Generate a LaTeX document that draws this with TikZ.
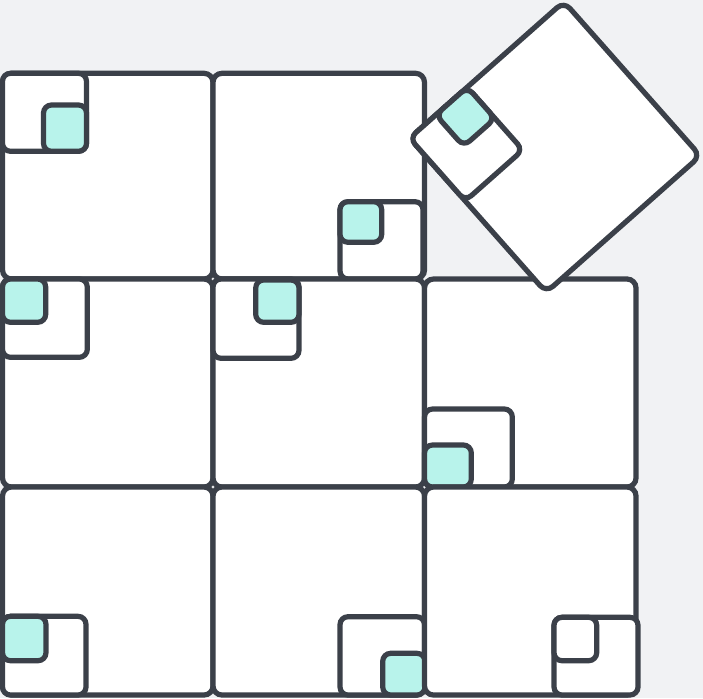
\documentclass[tikz,border=0pt]{standalone}
\usepackage{xcolor}
\definecolor{bg}{HTML}{F1F2F4}
\definecolor{ink}{HTML}{3B4049}
\definecolor{mint}{HTML}{B8F3EB}
\begin{document}
\begin{tikzpicture}[x=1pt,y=-1pt,
 bigsq/.style={draw=ink,fill=white,line width=5.2pt,rounded corners=9pt},
 smallsq/.style={draw=ink,fill=white,line width=5.2pt,rounded corners=8pt},
 mintsq/.style={draw=ink,fill=mint,line width=5.2pt,rounded corners=8pt}]
\fill[bg] (0,0) rectangle (703,698);
\useasboundingbox (0,0) rectangle (703,698);
% row 1
\draw[bigsq] (2.5,73.3) rectangle (213,279);
\draw[smallsq] (2.5,73.3) rectangle (86.5,151.3);
\draw[mintsq] (43.5,105) rectangle (86.5,151.3);
\draw[bigsq] (213,73.3) rectangle (424.5,279);
\draw[smallsq] (340,201.7) rectangle (423,279);
\draw[mintsq] (340,201.7) rectangle (381.7,242.3);
% row 2
\draw[bigsq] (2.5,279) rectangle (213,487);
\draw[smallsq] (2.5,279) rectangle (87.3,357.3);
\draw[mintsq] (2.5,279) rectangle (45.7,322.3);
\draw[bigsq] (213,279) rectangle (424.5,487);
\draw[smallsq] (213,279) rectangle (299,358.3);
\draw[mintsq] (255.7,280) rectangle (299,322.3);
\draw[bigsq] (424.5,279) rectangle (636,487);
\draw[smallsq] (424.5,409) rectangle (512.3,487);
\draw[mintsq] (424.5,445) rectangle (471.3,487);
% row 3
\draw[bigsq] (2.5,487) rectangle (213,695);
\draw[smallsq] (2.5,616.3) rectangle (86,695);
\draw[mintsq] (2.5,616.3) rectangle (46,660.7);
\draw[bigsq] (213,487) rectangle (424.5,695);
\draw[smallsq] (340,616.7) rectangle (424.5,695);
\draw[mintsq] (382.7,653.3) rectangle (425,695);
\draw[bigsq] (424.5,487) rectangle (636,695);
\draw[smallsq] (554,617.3) rectangle (638,695);
\draw[smallsq] (554,617.3) rectangle (596.7,660.7);
% rotated square
\begin{scope}[shift={(555,147)},rotate=41.5]
\draw[bigsq] (-103,-103) rectangle (103,103);
\draw[smallsq] (-103,-103) rectangle (-26,-19);
\draw[mintsq] (-68,-103) rectangle (-26,-61);
\end{scope}
\end{tikzpicture}
\end{document}
